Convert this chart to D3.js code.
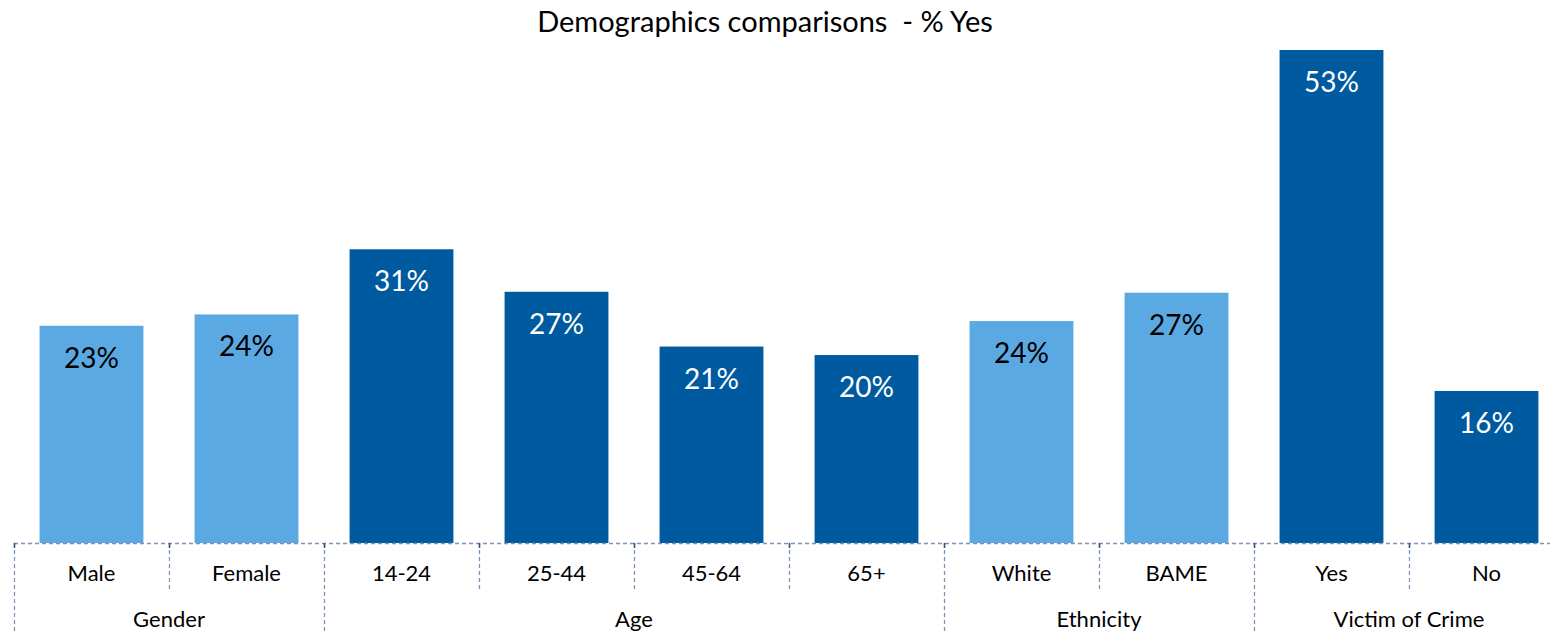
<!DOCTYPE html>
<html><head><meta charset="utf-8">
<script src="https://cdn.jsdelivr.net/npm/d3@7/dist/d3.min.js"></script>
<style>body{margin:0;background:#fff}svg{display:block}text{font-family:Lato,"Open Sans",sans-serif;white-space:pre}</style>
</head><body><svg id="c" width="1550" height="634"></svg>
<script>
const categories = ["Male","Female","14-24","25-44","45-64","65+","White","BAME","Yes","No"];
const groupOf = ["Gender","Gender","Age","Age","Age","Age","Ethnicity","Ethnicity","Victim of Crime","Victim of Crime"];
const groups = ["Gender","Age","Ethnicity","Victim of Crime"];
const values = [23.0, 24.2, 31.1, 26.6, 20.8, 19.9, 23.5, 26.5, 52.2, 16.1];
const labels = ["23%","24%","31%","27%","21%","20%","24%","27%","53%","16%"];
const shade = ["light","light","dark","dark","dark","dark","light","light","dark","dark"];

const svg = d3.select("#c");
const W = 1550, H = 634;
const base = 543;
const x = d3.scaleBand().domain(categories).range([14, 1564]).paddingInner(0.33).paddingOuter(0.165);
const y = d3.scaleLinear().domain([0, 52.2]).range([base, 50]);
const col = {light:"#5BA9E3", dark:"#005AA0"};
const txt = {light:"#000", dark:"#fff"};
const step = x.step();
const left = x.range()[0];

svg.append("text").attr("x", 765).attr("y", 32).attr("text-anchor","middle")
  .attr("font-size", 29).attr("fill","#000").attr("xml:space","preserve")
  .text("Demographics comparisons  - % Yes");

const data = categories.map((c,i)=>({c, v:values[i], l:labels[i], s:shade[i]}));
svg.selectAll("rect.bar").data(data).join("rect").attr("class","bar")
  .attr("x", d=>x(d.c)).attr("width", x.bandwidth())
  .attr("y", d=>y(d.v)).attr("height", d=>base - y(d.v))
  .attr("fill", d=>col[d.s]);
svg.selectAll("text.val").data(data).join("text").attr("class","val")
  .attr("x", d=>x(d.c)+x.bandwidth()/2).attr("y", d=>y(d.v)+42)
  .attr("text-anchor","middle").attr("font-size", 28)
  .attr("fill", d=>txt[d.s]).text(d=>d.l);

const lc = "#7F93B5";
svg.append("line").attr("x1", left).attr("x2", W).attr("y1", base+0.5).attr("y2", base+0.5)
  .attr("stroke", lc).attr("stroke-width", 1.3).attr("stroke-dasharray","4,3");
const boundaries = [];
categories.forEach((c,i)=>{
  const bx = left + i*step;
  const major = i===0 || groupOf[i]!==groupOf[i-1];
  boundaries.push({bx, major});
});
boundaries.push({bx: left + categories.length*step, major:true});
boundaries.forEach(b=>{
  if (b.bx > W) return;
  svg.append("line").attr("x1", Math.round(b.bx)+0.5).attr("x2", Math.round(b.bx)+0.5)
    .attr("y1", base).attr("y2", b.major ? H : 590)
    .attr("stroke", lc).attr("stroke-width", 1.3).attr("stroke-dasharray","4,3");
  svg.append("line").attr("x1", Math.round(b.bx)+0.5).attr("x2", Math.round(b.bx)+0.5)
    .attr("y1", base).attr("y2", base+5).attr("stroke", "#2F4F8A").attr("stroke-width", 1.5);
});
svg.selectAll("text.cat").data(categories).join("text").attr("class","cat")
  .attr("x", d=>x(d)+x.bandwidth()/2).attr("y", 581).attr("text-anchor","middle")
  .attr("font-size", 22).attr("fill","#000").text(d=>d);
groups.forEach(g=>{
  const idx = categories.map((c,i)=>i).filter(i=>groupOf[i]===g);
  const x0 = left + idx[0]*step, x1 = left + (idx[idx.length-1]+1)*step;
  svg.append("text").attr("x", (x0+x1)/2).attr("y", 627).attr("text-anchor","middle")
    .attr("font-size", 22).attr("fill","#000").text(g);
});
</script></body></html>
